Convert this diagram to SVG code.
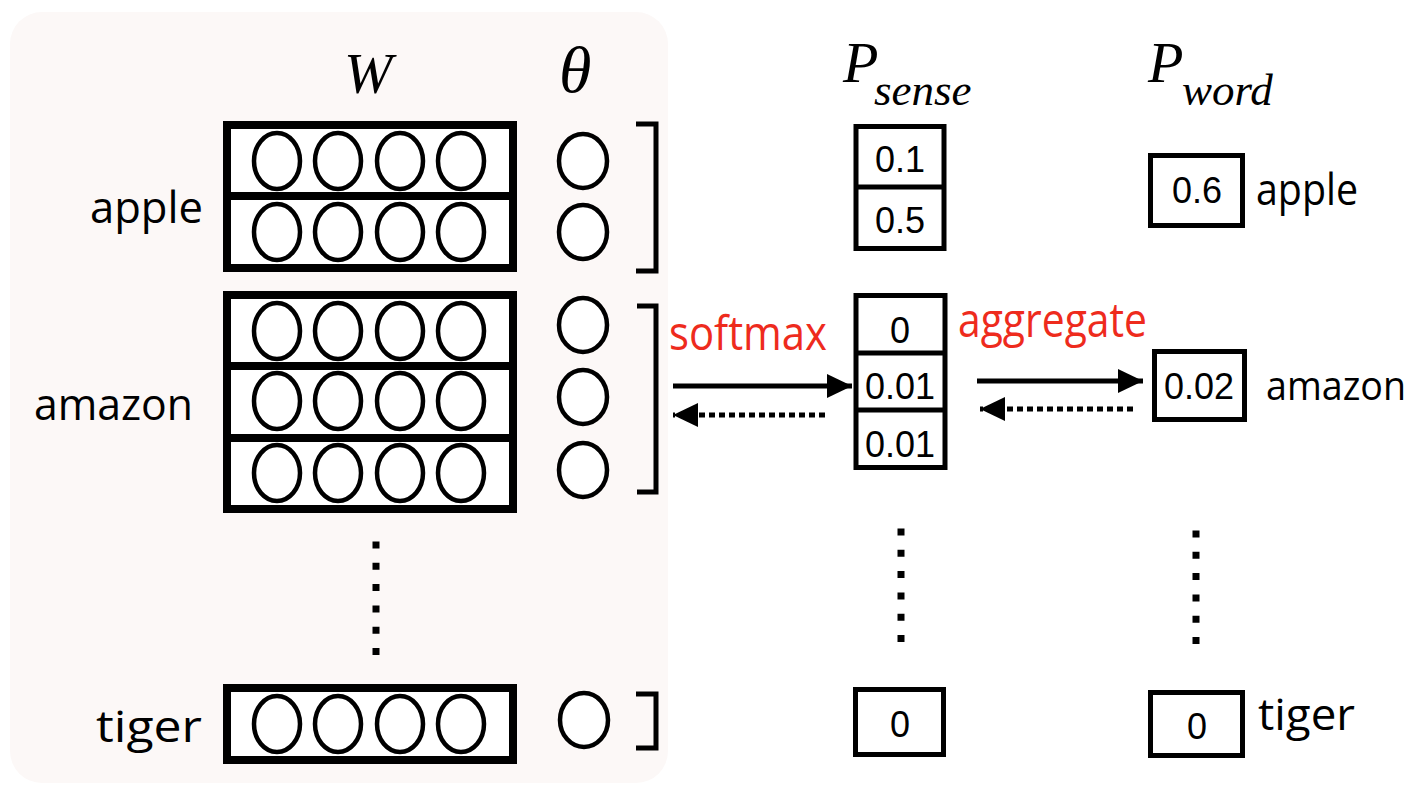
<svg xmlns="http://www.w3.org/2000/svg" width="1421" height="785" viewBox="0 0 1421 785">
<defs>
<style>
.bg{fill:#fcf8f7}
.wbox{fill:#fff;stroke:#000;stroke-width:8}
.div{stroke:#000;stroke-width:8}
.el{fill:#fff;stroke:#000;stroke-width:4.5}
.br{fill:none;stroke:#000;stroke-width:5}
.pbox{fill:#fff;stroke:#000;stroke-width:5}
.pdiv{stroke:#000;stroke-width:5}
.num{font-family:"Liberation Sans",Arial,sans-serif;font-size:36px;text-anchor:middle;fill:#000}
.lab{font-family:"Open Sans","Noto Sans",sans-serif;font-size:43px;fill:#000}
.lab2{font-family:"Open Sans","Noto Sans",sans-serif;font-size:40px;fill:#000}
.hd{font-family:"Liberation Serif","Times New Roman",serif;font-style:italic;fill:#000}
.red{font-family:"Open Sans","Noto Sans",sans-serif;font-size:48px;fill:#ee2b1d}
.solid{stroke:#000;stroke-width:5;fill:none}
.dot{stroke:#000;stroke-width:5;fill:none;stroke-dasharray:6 4}
.vdot{stroke:#000;stroke-width:7;fill:none;stroke-dasharray:7 14.3}
</style>
<marker id="ah" viewBox="0 0 25 24" refX="25" refY="12" markerWidth="25" markerHeight="24" markerUnits="userSpaceOnUse" orient="auto">
<path d="M0,0 L25,12 L0,24 Z" fill="#000"/>
</marker>
</defs>
<rect class="bg" x="10" y="12" width="658" height="771" rx="32"/>

<g id="headers">
<text class="hd" x="344" y="93" font-size="58">W</text>
<text class="hd" x="559" y="92" font-size="66">θ</text>
<text class="hd" x="843" y="82" font-size="58">P<tspan font-size="45" x="874" y="105">sense</tspan></text>
<text class="hd" x="1148" y="82" font-size="58">P<tspan font-size="45" x="1182" y="105">word</tspan></text>
</g>

<g id="W-apple">
<rect class="wbox" x="227" y="125" width="286" height="143"/>
<line class="div" x1="227" y1="196" x2="513" y2="196"/>
<ellipse class="el" cx="277" cy="161" rx="23" ry="28"/>
<ellipse class="el" cx="338" cy="161" rx="23" ry="28"/>
<ellipse class="el" cx="400" cy="161" rx="23" ry="28"/>
<ellipse class="el" cx="461" cy="161" rx="23" ry="28"/>
<ellipse class="el" cx="277" cy="232" rx="23" ry="28"/>
<ellipse class="el" cx="338" cy="232" rx="23" ry="28"/>
<ellipse class="el" cx="400" cy="232" rx="23" ry="28"/>
<ellipse class="el" cx="461" cy="232" rx="23" ry="28"/>
<text class="lab" x="90" y="223" textLength="113" lengthAdjust="spacingAndGlyphs">apple</text>
</g>

<g id="theta-apple">
<ellipse class="el" cx="583" cy="161" rx="24" ry="27"/>
<ellipse class="el" cx="583" cy="232" rx="24" ry="27"/>
<polyline class="br" points="636,124 656,124 656,271 636,271"/>
</g>

<g id="W-amazon">
<rect class="wbox" x="227" y="295" width="286" height="214"/>
<line class="div" x1="227" y1="366" x2="513" y2="366"/>
<line class="div" x1="227" y1="438" x2="513" y2="438"/>
<ellipse class="el" cx="277" cy="331" rx="23" ry="28"/>
<ellipse class="el" cx="338" cy="331" rx="23" ry="28"/>
<ellipse class="el" cx="400" cy="331" rx="23" ry="28"/>
<ellipse class="el" cx="461" cy="331" rx="23" ry="28"/>
<ellipse class="el" cx="277" cy="401" rx="23" ry="28"/>
<ellipse class="el" cx="338" cy="401" rx="23" ry="28"/>
<ellipse class="el" cx="400" cy="401" rx="23" ry="28"/>
<ellipse class="el" cx="461" cy="401" rx="23" ry="28"/>
<ellipse class="el" cx="277" cy="473" rx="23" ry="28"/>
<ellipse class="el" cx="338" cy="473" rx="23" ry="28"/>
<ellipse class="el" cx="400" cy="473" rx="23" ry="28"/>
<ellipse class="el" cx="461" cy="473" rx="23" ry="28"/>
<text class="lab" x="34" y="420" textLength="159" lengthAdjust="spacingAndGlyphs">amazon</text>
</g>

<g id="theta-amazon">
<ellipse class="el" cx="583" cy="325" rx="24" ry="27"/>
<ellipse class="el" cx="583" cy="397" rx="24" ry="27"/>
<ellipse class="el" cx="583" cy="470" rx="24" ry="27"/>
<polyline class="br" points="637,306 656,306 656,492 637,492"/>
</g>

<g id="W-dots">
<line class="vdot" x1="376" y1="541.5" x2="376" y2="660"/>
</g>

<g id="W-tiger">
<rect class="wbox" x="227" y="688" width="286" height="72"/>
<ellipse class="el" cx="277" cy="724" rx="23" ry="28"/>
<ellipse class="el" cx="338" cy="724" rx="23" ry="28"/>
<ellipse class="el" cx="400" cy="724" rx="23" ry="28"/>
<ellipse class="el" cx="461" cy="724" rx="23" ry="28"/>
<text class="lab" x="96" y="742" textLength="106" lengthAdjust="spacingAndGlyphs">tiger</text>
</g>

<g id="theta-tiger">
<ellipse class="el" cx="584" cy="720" rx="24" ry="27"/>
<polyline class="br" points="636,694 656,694 656,748 636,748"/>
</g>

<g id="Psense-apple">
<rect class="pbox" x="856" y="126.5" width="88" height="122"/>
<line class="pdiv" x1="856" y1="187" x2="944" y2="187"/>
<text class="num" x="900" y="172">0.1</text>
<text class="num" x="900" y="233">0.5</text>
</g>

<g id="Psense-amazon">
<rect class="pbox" x="856" y="295.5" width="89" height="172"/>
<line class="pdiv" x1="856" y1="353" x2="945" y2="353"/>
<line class="pdiv" x1="856" y1="410" x2="945" y2="410"/>
<text class="num" x="900" y="343">0</text>
<text class="num" x="900" y="399">0.01</text>
<text class="num" x="900" y="457">0.01</text>
</g>

<g id="Psense-dots">
<line class="vdot" x1="901" y1="528.5" x2="901" y2="645"/>
</g>

<g id="Psense-tiger">
<rect class="pbox" x="855.5" y="689.5" width="88" height="65"/>
<text class="num" x="900" y="737">0</text>
</g>

<g id="Pword-apple">
<rect class="pbox" x="1150.5" y="155.5" width="92" height="70"/>
<text class="num" x="1197" y="203">0.6</text>
<text class="lab" x="1256" y="205" textLength="102" lengthAdjust="spacingAndGlyphs">apple</text>
</g>

<g id="Pword-amazon">
<rect class="pbox" x="1154.5" y="351.5" width="90" height="68"/>
<text class="num" x="1199" y="399">0.02</text>
<text class="lab2" x="1266" y="400" textLength="140" lengthAdjust="spacingAndGlyphs">amazon</text>
</g>

<g id="Pword-dots">
<line class="vdot" x1="1196" y1="530.5" x2="1196" y2="647"/>
</g>

<g id="Pword-tiger">
<rect class="pbox" x="1150.5" y="692.5" width="92" height="63"/>
<text class="num" x="1197" y="739">0</text>
<text class="lab" x="1258" y="730" textLength="97" lengthAdjust="spacingAndGlyphs">tiger</text>
</g>

<g id="connectors">
<line class="solid" x1="673" y1="386" x2="852" y2="386" marker-end="url(#ah)"/>
<line class="dot" x1="825" y1="415" x2="673" y2="415" marker-end="url(#ah)"/>
<line class="solid" x1="977" y1="381" x2="1143" y2="381" marker-end="url(#ah)"/>
<line class="dot" x1="1133" y1="409" x2="980" y2="409" marker-end="url(#ah)"/>
<text class="red" x="669" y="350" textLength="158" lengthAdjust="spacingAndGlyphs">softmax</text>
<text class="red" x="958" y="337" textLength="189" lengthAdjust="spacingAndGlyphs">aggregate</text>
</g>
</svg>
